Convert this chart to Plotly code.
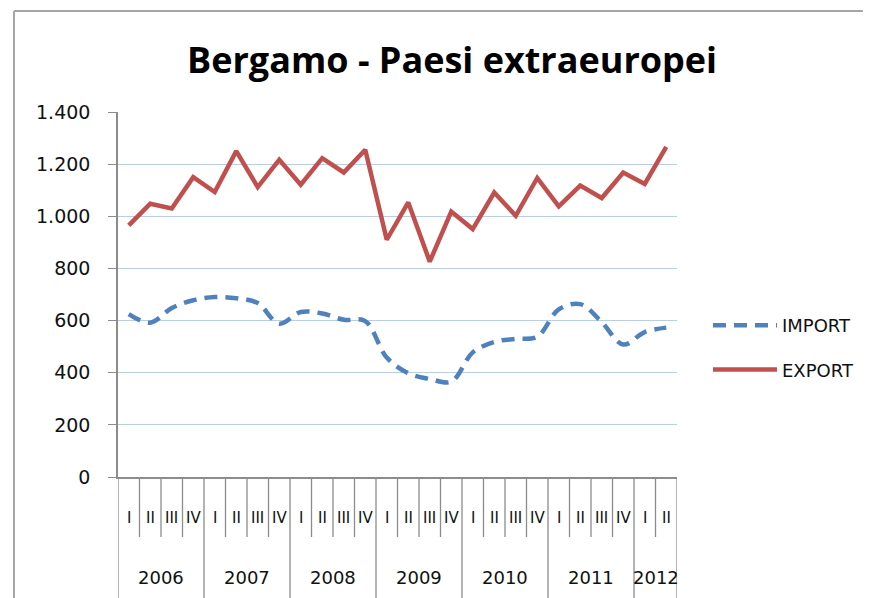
import plotly.graph_objects as go

# ---- data ----
years = ["2006", "2007", "2008", "2009", "2010", "2011", "2012"]
quarters_per_year = [4, 4, 4, 4, 4, 4, 2]
quarter_names = ["I", "II", "III", "IV"]

import_vals = [625, 592, 648, 678, 690, 686, 667, 588, 633, 627, 603, 598,
               458, 398, 376, 366, 478, 518, 530, 538, 643, 663, 594, 508,
               556, 573]
export_vals = [965, 1048, 1030, 1150, 1093, 1250, 1112, 1217, 1121, 1223,
               1168, 1255, 910, 1053, 826, 1018, 951, 1091, 1002, 1147,
               1038, 1118, 1070, 1168, 1124, 1266]

period_year = []
period_quarter = []
for y, n in zip(years, quarters_per_year):
    for q in quarter_names[:n]:
        period_year.append(y)
        period_quarter.append(q)
periods = [f"{q} {y}" for y, q in zip(period_year, period_quarter)]

# ---- layout geometry (pixels, in screenshot coordinates) ----
W, H = 871, 598
OFF = 8  # page body margin
L, R, T, B = 118 - OFF, 677 - OFF, 112 - OFF, 477 - OFF


def px_x(px):
    return (px - OFF - L) / (R - L)


def px_y(py):
    return (B - (py - OFF)) / (B - T)


AX_GRAY = "#8C8C8C"
FONT = "DejaVu Sans"

fig = go.Figure()
fig.add_trace(go.Scatter(
    x=periods, y=import_vals, name="IMPORT", mode="lines",
    line=dict(color="#4F81BD", width=4.5, dash="13px,8px", shape="spline", smoothing=1),
    legendgroup="imp",
))
fig.add_trace(go.Scatter(
    x=periods, y=export_vals, name="EXPORT", mode="lines",
    line=dict(color="#C0504D", width=4.5),
    legendgroup="exp",
))

shapes = []
annotations = []
# category separators
idx = 0
boundaries = [-0.5]
for n in quarters_per_year:
    idx += n
    boundaries.append(idx - 0.5)
year_bounds = set(boundaries)
for k in range(len(periods) + 1):
    xb = k - 0.5
    y_end = px_y(610) if xb in year_bounds else px_y(537)
    shapes.append(dict(type="line", xref="x", yref="paper", x0=xb, x1=xb,
                       y0=0, y1=y_end, line=dict(color=AX_GRAY, width=1.3)))
# quarter labels
for p, q in zip(periods, period_quarter):
    annotations.append(dict(x=p, xref="x", y=px_y(518), yref="paper", text=q,
                            showarrow=False, font=dict(family=FONT, size=15, color="#111"),
                            xanchor="center", yanchor="middle"))
# year labels
start = 0
for y, n in zip(years, quarters_per_year):
    center = start + (n - 1) / 2
    annotations.append(dict(x=center, xref="x", y=px_y(577), yref="paper", text=y,
                            showarrow=False, font=dict(family=FONT, size=18, color="#111"),
                            xanchor="center", yanchor="middle"))
    start += n

# chart frame lines
FR = "#A6A6A6"
shapes.append(dict(type="line", xref="paper", yref="paper", x0=px_x(14), x1=px_x(885),
                   y0=px_y(11), y1=px_y(11), line=dict(color=FR, width=2)))
shapes.append(dict(type="line", xref="paper", yref="paper", x0=px_x(14), x1=px_x(14),
                   y0=px_y(11), y1=px_y(610), line=dict(color=FR, width=2)))
shapes.append(dict(type="line", xref="paper", yref="paper", x0=px_x(10), x1=px_x(885),
                   y0=px_y(1.5), y1=px_y(1.5), line=dict(color=FR, width=2)))

# title
annotations.append(dict(text="<b>Bergamo - Paesi extraeuropei</b>", xref="paper", yref="paper",
                        x=px_x(452), y=px_y(59), showarrow=False, xanchor="center",
                        yanchor="middle", font=dict(family="Open Sans", size=36, color="#000")))

fig.update_layout(
    width=W, height=H,
    margin=dict(l=L, r=W - R, t=T, b=H - B, pad=0),
    paper_bgcolor="white", plot_bgcolor="white",
    separators=",.",
    showlegend=True,
    legend=dict(x=px_x(708), y=px_y(307), xanchor="left", yanchor="top",
                font=dict(family=FONT, size=18, color="#111"),
                traceorder="grouped", tracegroupgap=18, itemwidth=64,
                bgcolor="rgba(0,0,0,0)"),
    xaxis=dict(type="category", range=[-0.5, len(periods) - 0.5], showticklabels=False,
               showgrid=False, zeroline=False, showline=True, linecolor=AX_GRAY,
               linewidth=1.5, ticks=""),
    yaxis=dict(range=[0, 1400], dtick=200, tickformat=",d", showgrid=True,
               gridcolor="#B9CDE5", gridwidth=1.2, zeroline=False, showline=True,
               linecolor=AX_GRAY, linewidth=1.5, ticks="outside", ticklen=8,
               tickcolor=AX_GRAY, tickwidth=1.3, ticklabelstandoff=14,
               tickfont=dict(family=FONT, size=19, color="#111")),
    shapes=shapes, annotations=annotations,
)

fig.write_html("out.html")
